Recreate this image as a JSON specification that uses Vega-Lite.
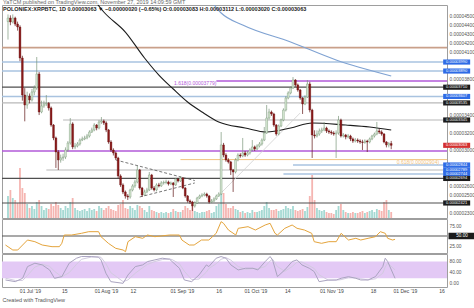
{
"$schema": "https://vega.github.io/schema/vega-lite/v6.json",
"padding": 0,
"background": "white",
"spacing": 1,
"bounds": "flush",
"config": {"font": "Liberation Sans", "view": {"stroke": "#9e9e9e", "strokeWidth": 1}},
"title": {"text": "YaTCM published on TradingView.com, November 27, 2019 14:09:59 GMT", "subtitle": "POLONIEX:XRPBTC, 1D  0.00003063 ▼ −0.00000020 (−0.65%)  O:0.00003083  H:0.00003112  L:0.00003020  C:0.00003063", "anchor": "start", "frame": "group", "fontSize": 5.5, "fontWeight": "normal", "color": "#666666", "subtitleFontSize": 5.5, "subtitleColor": "#222222", "subtitleFontWeight": "bold", "subtitlePadding": 1.5, "offset": -8, "dx": 1},
"datasets": {
"candles": [
{"t":"2019-06-20","o":4440e-8,"h":4520e-8,"l":4240e-8,"c":4480e-8,"v":22},
{"t":"2019-06-21","o":4480e-8,"h":4510e-8,"l":4400e-8,"c":4436e-8,"v":28},
{"t":"2019-06-22","o":4436e-8,"h":4520e-8,"l":4420e-8,"c":4480e-8,"v":20},
{"t":"2019-06-23","o":4480e-8,"h":4495e-8,"l":4390e-8,"c":4413e-8,"v":18},
{"t":"2019-06-24","o":4413e-8,"h":4440e-8,"l":4340e-8,"c":4380e-8,"v":15},
{"t":"2019-06-25","o":4380e-8,"h":4400e-8,"l":4000e-8,"c":4035e-8,"v":50},
{"t":"2019-06-26","o":4035e-8,"h":4060e-8,"l":3560e-8,"c":3623e-8,"v":30},
{"t":"2019-06-27","o":3623e-8,"h":3700e-8,"l":3330e-8,"c":3512e-8,"v":25},
{"t":"2019-06-28","o":3512e-8,"h":3660e-8,"l":3470e-8,"c":3612e-8,"v":14},
{"t":"2019-06-29","o":3612e-8,"h":3640e-8,"l":3530e-8,"c":3568e-8,"v":10},
{"t":"2019-06-30","o":3568e-8,"h":3690e-8,"l":3550e-8,"c":3657e-8,"v":12},
{"t":"2019-07-01","o":3657e-8,"h":3730e-8,"l":3620e-8,"c":3701e-8,"v":9},
{"t":"2019-07-02","o":3701e-8,"h":4046e-8,"l":3680e-8,"c":3857e-8,"v":16},
{"t":"2019-07-03","o":3857e-8,"h":3880e-8,"l":3400e-8,"c":3434e-8,"v":18},
{"t":"2019-07-04","o":3434e-8,"h":3560e-8,"l":3420e-8,"c":3501e-8,"v":12},
{"t":"2019-07-05","o":3501e-8,"h":3560e-8,"l":3480e-8,"c":3523e-8,"v":8},
{"t":"2019-07-06","o":3523e-8,"h":3623e-8,"l":3500e-8,"c":3530e-8,"v":10},
{"t":"2019-07-07","o":3530e-8,"h":3545e-8,"l":3450e-8,"c":3479e-8,"v":9},
{"t":"2019-07-08","o":3479e-8,"h":3495e-8,"l":3270e-8,"c":3289e-8,"v":14},
{"t":"2019-07-09","o":3289e-8,"h":3300e-8,"l":3120e-8,"c":3145e-8,"v":12},
{"t":"2019-07-10","o":3145e-8,"h":3160e-8,"l":2811e-8,"c":2989e-8,"v":16},
{"t":"2019-07-11","o":2989e-8,"h":3010e-8,"l":2789e-8,"c":2900e-8,"v":13},
{"t":"2019-07-12","o":2900e-8,"h":2960e-8,"l":2870e-8,"c":2922e-8,"v":10},
{"t":"2019-07-13","o":2922e-8,"h":2970e-8,"l":2890e-8,"c":2933e-8,"v":8},
{"t":"2019-07-14","o":2933e-8,"h":3040e-8,"l":2910e-8,"c":3011e-8,"v":12},
{"t":"2019-07-15","o":3011e-8,"h":3110e-8,"l":2990e-8,"c":3089e-8,"v":10},
{"t":"2019-07-16","o":3089e-8,"h":3367e-8,"l":3070e-8,"c":3301e-8,"v":16},
{"t":"2019-07-17","o":3301e-8,"h":3320e-8,"l":3020e-8,"c":3045e-8,"v":20},
{"t":"2019-07-18","o":3045e-8,"h":3090e-8,"l":3020e-8,"c":3056e-8,"v":10},
{"t":"2019-07-19","o":3056e-8,"h":3100e-8,"l":3040e-8,"c":3078e-8,"v":8},
{"t":"2019-07-20","o":3078e-8,"h":3140e-8,"l":3060e-8,"c":3122e-8,"v":7},
{"t":"2019-07-21","o":3122e-8,"h":3160e-8,"l":3110e-8,"c":3134e-8,"v":8},
{"t":"2019-07-22","o":3134e-8,"h":3170e-8,"l":3120e-8,"c":3145e-8,"v":9},
{"t":"2019-07-23","o":3145e-8,"h":3190e-8,"l":3130e-8,"c":3167e-8,"v":7},
{"t":"2019-07-24","o":3167e-8,"h":3230e-8,"l":3150e-8,"c":3211e-8,"v":10},
{"t":"2019-07-25","o":3211e-8,"h":3260e-8,"l":3200e-8,"c":3234e-8,"v":8},
{"t":"2019-07-26","o":3234e-8,"h":3310e-8,"l":3220e-8,"c":3289e-8,"v":9},
{"t":"2019-07-27","o":3289e-8,"h":3300e-8,"l":3230e-8,"c":3256e-8,"v":7},
{"t":"2019-07-28","o":3256e-8,"h":3345e-8,"l":3240e-8,"c":3323e-8,"v":12},
{"t":"2019-07-29","o":3323e-8,"h":3378e-8,"l":3300e-8,"c":3334e-8,"v":10},
{"t":"2019-07-30","o":3334e-8,"h":3350e-8,"l":3290e-8,"c":3312e-8,"v":8},
{"t":"2019-07-31","o":3312e-8,"h":3330e-8,"l":3210e-8,"c":3234e-8,"v":10},
{"t":"2019-08-01","o":3234e-8,"h":3245e-8,"l":3080e-8,"c":3100e-8,"v":12},
{"t":"2019-08-02","o":3100e-8,"h":3120e-8,"l":2990e-8,"c":3011e-8,"v":9},
{"t":"2019-08-03","o":3011e-8,"h":3030e-8,"l":2950e-8,"c":2978e-8,"v":8},
{"t":"2019-08-04","o":2978e-8,"h":2995e-8,"l":2900e-8,"c":2922e-8,"v":7},
{"t":"2019-08-05","o":2922e-8,"h":2935e-8,"l":2700e-8,"c":2722e-8,"v":13},
{"t":"2019-08-06","o":2722e-8,"h":2740e-8,"l":2600e-8,"c":2622e-8,"v":14},
{"t":"2019-08-07","o":2622e-8,"h":2640e-8,"l":2520e-8,"c":2544e-8,"v":18},
{"t":"2019-08-08","o":2544e-8,"h":2560e-8,"l":2470e-8,"c":2499e-8,"v":10},
{"t":"2019-08-09","o":2499e-8,"h":2520e-8,"l":2455e-8,"c":2488e-8,"v":9},
{"t":"2019-08-10","o":2488e-8,"h":2580e-8,"l":2470e-8,"c":2566e-8,"v":12},
{"t":"2019-08-11","o":2566e-8,"h":2630e-8,"l":2550e-8,"c":2611e-8,"v":10},
{"t":"2019-08-12","o":2611e-8,"h":2680e-8,"l":2590e-8,"c":2655e-8,"v":8},
{"t":"2019-08-13","o":2655e-8,"h":2833e-8,"l":2640e-8,"c":2789e-8,"v":13},
{"t":"2019-08-14","o":2789e-8,"h":2800e-8,"l":2570e-8,"c":2588e-8,"v":12},
{"t":"2019-08-15","o":2588e-8,"h":2600e-8,"l":2488e-8,"c":2510e-8,"v":10},
{"t":"2019-08-16","o":2510e-8,"h":2570e-8,"l":2500e-8,"c":2544e-8,"v":8},
{"t":"2019-08-17","o":2544e-8,"h":2590e-8,"l":2530e-8,"c":2566e-8,"v":6},
{"t":"2019-08-18","o":2566e-8,"h":2766e-8,"l":2555e-8,"c":2733e-8,"v":12},
{"t":"2019-08-19","o":2733e-8,"h":2745e-8,"l":2570e-8,"c":2588e-8,"v":8},
{"t":"2019-08-20","o":2588e-8,"h":2610e-8,"l":2550e-8,"c":2566e-8,"v":7},
{"t":"2019-08-21","o":2566e-8,"h":2640e-8,"l":2550e-8,"c":2622e-8,"v":6},
{"t":"2019-08-22","o":2622e-8,"h":2645e-8,"l":2595e-8,"c":2611e-8,"v":5},
{"t":"2019-08-23","o":2611e-8,"h":2665e-8,"l":2600e-8,"c":2644e-8,"v":6},
{"t":"2019-08-24","o":2644e-8,"h":2670e-8,"l":2625e-8,"c":2650e-8,"v":5},
{"t":"2019-08-25","o":2650e-8,"h":2680e-8,"l":2630e-8,"c":2655e-8,"v":6},
{"t":"2019-08-26","o":2655e-8,"h":2670e-8,"l":2615e-8,"c":2633e-8,"v":5},
{"t":"2019-08-27","o":2633e-8,"h":2660e-8,"l":2620e-8,"c":2644e-8,"v":6},
{"t":"2019-08-28","o":2644e-8,"h":2655e-8,"l":2488e-8,"c":2622e-8,"v":9},
{"t":"2019-08-29","o":2622e-8,"h":2700e-8,"l":2610e-8,"c":2688e-8,"v":7},
{"t":"2019-08-30","o":2688e-8,"h":2700e-8,"l":2650e-8,"c":2666e-8,"v":6},
{"t":"2019-08-31","o":2666e-8,"h":2720e-8,"l":2655e-8,"c":2700e-8,"v":6},
{"t":"2019-09-01","o":2700e-8,"h":2710e-8,"l":2575e-8,"c":2588e-8,"v":8},
{"t":"2019-09-02","o":2588e-8,"h":2600e-8,"l":2480e-8,"c":2499e-8,"v":12},
{"t":"2019-09-03","o":2499e-8,"h":2510e-8,"l":2425e-8,"c":2444e-8,"v":10},
{"t":"2019-09-04","o":2444e-8,"h":2460e-8,"l":2410e-8,"c":2432e-8,"v":8},
{"t":"2019-09-05","o":2432e-8,"h":2445e-8,"l":2332e-8,"c":2388e-8,"v":12},
{"t":"2019-09-06","o":2388e-8,"h":2440e-8,"l":2370e-8,"c":2421e-8,"v":7},
{"t":"2019-09-07","o":2421e-8,"h":2490e-8,"l":2410e-8,"c":2477e-8,"v":6},
{"t":"2019-09-08","o":2477e-8,"h":2515e-8,"l":2465e-8,"c":2499e-8,"v":5},
{"t":"2019-09-09","o":2499e-8,"h":2530e-8,"l":2485e-8,"c":2510e-8,"v":6},
{"t":"2019-09-10","o":2510e-8,"h":2540e-8,"l":2495e-8,"c":2521e-8,"v":6},
{"t":"2019-09-11","o":2521e-8,"h":2535e-8,"l":2480e-8,"c":2499e-8,"v":7},
{"t":"2019-09-12","o":2499e-8,"h":2510e-8,"l":2415e-8,"c":2432e-8,"v":8},
{"t":"2019-09-13","o":2432e-8,"h":2465e-8,"l":2420e-8,"c":2444e-8,"v":5},
{"t":"2019-09-14","o":2444e-8,"h":2485e-8,"l":2430e-8,"c":2466e-8,"v":6},
{"t":"2019-09-15","o":2466e-8,"h":2515e-8,"l":2455e-8,"c":2499e-8,"v":12},
{"t":"2019-09-16","o":2499e-8,"h":2540e-8,"l":2488e-8,"c":2521e-8,"v":14},
{"t":"2019-09-17","o":2521e-8,"h":3211e-8,"l":2510e-8,"c":3067e-8,"v":26},
{"t":"2019-09-18","o":3067e-8,"h":3090e-8,"l":2930e-8,"c":2955e-8,"v":25},
{"t":"2019-09-19","o":2955e-8,"h":2975e-8,"l":2880e-8,"c":2900e-8,"v":14},
{"t":"2019-09-20","o":2900e-8,"h":2920e-8,"l":2860e-8,"c":2878e-8,"v":10},
{"t":"2019-09-21","o":2878e-8,"h":2890e-8,"l":2733e-8,"c":2789e-8,"v":10},
{"t":"2019-09-22","o":2789e-8,"h":2800e-8,"l":2544e-8,"c":2766e-8,"v":12},
{"t":"2019-09-23","o":2766e-8,"h":2920e-8,"l":2750e-8,"c":2900e-8,"v":9},
{"t":"2019-09-24","o":2900e-8,"h":2975e-8,"l":2885e-8,"c":2955e-8,"v":8},
{"t":"2019-09-25","o":2955e-8,"h":2975e-8,"l":2925e-8,"c":2944e-8,"v":6},
{"t":"2019-09-26","o":2944e-8,"h":3145e-8,"l":2930e-8,"c":2978e-8,"v":7},
{"t":"2019-09-27","o":2978e-8,"h":3000e-8,"l":2935e-8,"c":2955e-8,"v":5},
{"t":"2019-09-28","o":2955e-8,"h":3000e-8,"l":2940e-8,"c":2978e-8,"v":6},
{"t":"2019-09-29","o":2978e-8,"h":3030e-8,"l":2960e-8,"c":3011e-8,"v":5},
{"t":"2019-09-30","o":3011e-8,"h":3122e-8,"l":2995e-8,"c":3045e-8,"v":8},
{"t":"2019-10-01","o":3045e-8,"h":3060e-8,"l":3000e-8,"c":3022e-8,"v":6},
{"t":"2019-10-02","o":3022e-8,"h":3075e-8,"l":3010e-8,"c":3056e-8,"v":6},
{"t":"2019-10-03","o":3056e-8,"h":3100e-8,"l":3040e-8,"c":3078e-8,"v":7},
{"t":"2019-10-04","o":3078e-8,"h":3140e-8,"l":3060e-8,"c":3122e-8,"v":8},
{"t":"2019-10-05","o":3122e-8,"h":3267e-8,"l":3110e-8,"c":3200e-8,"v":12},
{"t":"2019-10-06","o":3200e-8,"h":3512e-8,"l":3190e-8,"c":3367e-8,"v":16},
{"t":"2019-10-07","o":3367e-8,"h":3470e-8,"l":3350e-8,"c":3434e-8,"v":10},
{"t":"2019-10-08","o":3434e-8,"h":3450e-8,"l":3390e-8,"c":3412e-8,"v":8},
{"t":"2019-10-09","o":3412e-8,"h":3425e-8,"l":3270e-8,"c":3289e-8,"v":8},
{"t":"2019-10-10","o":3289e-8,"h":3300e-8,"l":3170e-8,"c":3189e-8,"v":9},
{"t":"2019-10-11","o":3189e-8,"h":3295e-8,"l":3175e-8,"c":3278e-8,"v":7},
{"t":"2019-10-12","o":3278e-8,"h":3360e-8,"l":3265e-8,"c":3345e-8,"v":8},
{"t":"2019-10-13","o":3345e-8,"h":3475e-8,"l":3330e-8,"c":3456e-8,"v":9},
{"t":"2019-10-14","o":3456e-8,"h":3610e-8,"l":3440e-8,"c":3590e-8,"v":12},
{"t":"2019-10-15","o":3590e-8,"h":3665e-8,"l":3575e-8,"c":3646e-8,"v":10},
{"t":"2019-10-16","o":3646e-8,"h":3720e-8,"l":3630e-8,"c":3701e-8,"v":9},
{"t":"2019-10-17","o":3701e-8,"h":3823e-8,"l":3690e-8,"c":3790e-8,"v":12},
{"t":"2019-10-18","o":3790e-8,"h":3800e-8,"l":3715e-8,"c":3735e-8,"v":8},
{"t":"2019-10-19","o":3735e-8,"h":3750e-8,"l":3660e-8,"c":3679e-8,"v":7},
{"t":"2019-10-20","o":3679e-8,"h":3690e-8,"l":3570e-8,"c":3590e-8,"v":8},
{"t":"2019-10-21","o":3590e-8,"h":3600e-8,"l":3412e-8,"c":3523e-8,"v":9},
{"t":"2019-10-22","o":3523e-8,"h":3620e-8,"l":3510e-8,"c":3601e-8,"v":7},
{"t":"2019-10-23","o":3601e-8,"h":3790e-8,"l":3590e-8,"c":3746e-8,"v":11},
{"t":"2019-10-24","o":3746e-8,"h":3770e-8,"l":3430e-8,"c":3456e-8,"v":22},
{"t":"2019-10-25","o":3456e-8,"h":3470e-8,"l":2922e-8,"c":3178e-8,"v":43},
{"t":"2019-10-26","o":3178e-8,"h":3230e-8,"l":3140e-8,"c":3167e-8,"v":18},
{"t":"2019-10-27","o":3167e-8,"h":3230e-8,"l":3150e-8,"c":3189e-8,"v":10},
{"t":"2019-10-28","o":3189e-8,"h":3250e-8,"l":3170e-8,"c":3223e-8,"v":8},
{"t":"2019-10-29","o":3223e-8,"h":3260e-8,"l":3200e-8,"c":3234e-8,"v":7},
{"t":"2019-10-30","o":3234e-8,"h":3323e-8,"l":3220e-8,"c":3256e-8,"v":8},
{"t":"2019-10-31","o":3256e-8,"h":3270e-8,"l":3200e-8,"c":3223e-8,"v":6},
{"t":"2019-11-01","o":3223e-8,"h":3240e-8,"l":3190e-8,"c":3211e-8,"v":5},
{"t":"2019-11-02","o":3211e-8,"h":3230e-8,"l":3180e-8,"c":3200e-8,"v":5},
{"t":"2019-11-03","o":3200e-8,"h":3220e-8,"l":3170e-8,"c":3189e-8,"v":4},
{"t":"2019-11-04","o":3189e-8,"h":3230e-8,"l":2922e-8,"c":3200e-8,"v":8},
{"t":"2019-11-05","o":3200e-8,"h":3390e-8,"l":3180e-8,"c":3345e-8,"v":12},
{"t":"2019-11-06","o":3345e-8,"h":3360e-8,"l":3150e-8,"c":3167e-8,"v":14},
{"t":"2019-11-07","o":3167e-8,"h":3200e-8,"l":3150e-8,"c":3178e-8,"v":8},
{"t":"2019-11-08","o":3178e-8,"h":3190e-8,"l":3130e-8,"c":3156e-8,"v":6},
{"t":"2019-11-09","o":3156e-8,"h":3190e-8,"l":3140e-8,"c":3167e-8,"v":5},
{"t":"2019-11-10","o":3167e-8,"h":3180e-8,"l":3110e-8,"c":3134e-8,"v":5},
{"t":"2019-11-11","o":3134e-8,"h":3150e-8,"l":3090e-8,"c":3111e-8,"v":6},
{"t":"2019-11-12","o":3111e-8,"h":3145e-8,"l":3095e-8,"c":3122e-8,"v":5},
{"t":"2019-11-13","o":3122e-8,"h":3140e-8,"l":3090e-8,"c":3111e-8,"v":5},
{"t":"2019-11-14","o":3111e-8,"h":3130e-8,"l":3080e-8,"c":3100e-8,"v":6},
{"t":"2019-11-15","o":3100e-8,"h":3125e-8,"l":3011e-8,"c":3095e-8,"v":7},
{"t":"2019-11-16","o":3095e-8,"h":3130e-8,"l":3080e-8,"c":3111e-8,"v":5},
{"t":"2019-11-17","o":3111e-8,"h":3125e-8,"l":2989e-8,"c":3100e-8,"v":6},
{"t":"2019-11-18","o":3100e-8,"h":3150e-8,"l":3085e-8,"c":3134e-8,"v":7},
{"t":"2019-11-19","o":3134e-8,"h":3180e-8,"l":3120e-8,"c":3167e-8,"v":8},
{"t":"2019-11-20","o":3167e-8,"h":3205e-8,"l":3150e-8,"c":3189e-8,"v":6},
{"t":"2019-11-21","o":3189e-8,"h":3323e-8,"l":3175e-8,"c":3223e-8,"v":9},
{"t":"2019-11-22","o":3223e-8,"h":3245e-8,"l":3190e-8,"c":3211e-8,"v":8},
{"t":"2019-11-23","o":3211e-8,"h":3230e-8,"l":3170e-8,"c":3189e-8,"v":7},
{"t":"2019-11-24","o":3189e-8,"h":3200e-8,"l":3085e-8,"c":3100e-8,"v":16},
{"t":"2019-11-25","o":3100e-8,"h":3110e-8,"l":3040e-8,"c":3067e-8,"v":18},
{"t":"2019-11-26","o":3067e-8,"h":3100e-8,"l":3040e-8,"c":3083e-8,"v":8},
{"t":"2019-11-27","o":3083e-8,"h":3112e-8,"l":3020e-8,"c":3063e-8,"v":6}
],
"levels": [
{"p":4150e-8,"kind":"brown","from":"2019-06-01","to":"2019-12-31"},
{"p":3990e-8,"kind":"steel","from":"2019-06-01","to":"2019-12-31"},
{"p":3890e-8,"kind":"steel","from":"2019-06-01","to":"2019-12-31"},
{"p":3779e-8,"kind":"fib","from":"2019-09-15","to":"2019-12-31"},
{"p":3710e-8,"kind":"dark","from":"2019-06-01","to":"2019-12-31"},
{"p":3607e-8,"kind":"steel","from":"2019-06-01","to":"2019-12-31"},
{"p":3535e-8,"kind":"grey","from":"2019-06-01","to":"2019-12-31"},
{"p":3345e-8,"kind":"grey","from":"2019-07-13","to":"2019-12-31"},
{"p":3000e-8,"kind":"fib","from":"2019-06-01","to":"2019-12-31"},
{"p":2904e-8,"kind":"gold","from":"2019-08-31","to":"2019-12-31"},
{"p":2844e-8,"kind":"steel","from":"2019-10-17","to":"2019-12-31"},
{"p":2789e-8,"kind":"grey","from":"2019-07-06","to":"2019-12-31"},
{"p":2744e-8,"kind":"steel","from":"2019-10-13","to":"2019-12-31"},
{"p":2694e-8,"kind":"dark","from":"2019-06-01","to":"2019-12-31"},
{"p":2421e-8,"kind":"dark","from":"2019-06-01","to":"2019-12-31"}
],
"tags": [
{"p":3990e-8,"kind":"blue"},{"p":3890e-8,"kind":"blue"},{"p":3710e-8,"kind":"black"},{"p":3607e-8,"kind":"blue"},
{"p":3535e-8,"kind":"black"},{"p":3345e-8,"kind":"black"},{"p":3063e-8,"kind":"red"},{"p":2844e-8,"kind":"blue"},
{"p":2789e-8,"kind":"blue"},{"p":2744e-8,"kind":"blue"},{"p":2694e-8,"kind":"black"},{"p":2421e-8,"kind":"black"}
],
"ma": [
{"kind":"ma100","t":"2019-07-26","p":4680e-8},{"kind":"ma100","t":"2019-07-30","p":4547e-8},{"kind":"ma100","t":"2019-08-08","p":4324e-8},
{"kind":"ma100","t":"2019-08-16","p":4035e-8},{"kind":"ma100","t":"2019-08-22","p":3845e-8},{"kind":"ma100","t":"2019-08-28","p":3690e-8},
{"kind":"ma100","t":"2019-09-03","p":3545e-8},{"kind":"ma100","t":"2019-09-09","p":3434e-8},{"kind":"ma100","t":"2019-09-16","p":3323e-8},
{"kind":"ma100","t":"2019-09-27","p":3256e-8},{"kind":"ma100","t":"2019-10-06","p":3211e-8},{"kind":"ma100","t":"2019-10-16","p":3256e-8},
{"kind":"ma100","t":"2019-10-25","p":3312e-8},{"kind":"ma100","t":"2019-11-08","p":3289e-8},{"kind":"ma100","t":"2019-11-18","p":3267e-8},
{"kind":"ma100","t":"2019-11-27","p":3234e-8},
{"kind":"ma200","t":"2019-09-13","p":4660e-8},{"kind":"ma200","t":"2019-09-17","p":4536e-8},{"kind":"ma200","t":"2019-09-26","p":4402e-8},
{"kind":"ma200","t":"2019-10-16","p":4213e-8},{"kind":"ma200","t":"2019-11-04","p":4013e-8},{"kind":"ma200","t":"2019-11-27","p":3835e-8}
],
"trend": [
{"id":"a","t":"2019-08-04","p":2900e-8},{"id":"a","t":"2019-09-06","p":2670e-8},
{"id":"b","t":"2019-08-14","p":2488e-8},{"id":"b","t":"2019-09-06","p":2644e-8}
],
"diag": [{"t":"2019-09-17","p":2533e-8},{"t":"2019-10-20","p":3423e-8}],
"notes": [
{"t":"2019-09-15","p":3757e-8,"label":"1.618(0.00003779)","kind":"fib"},
{"t":"2019-12-17","p":2878e-8,"label":"0.618(0.00002904)","kind":"gold"}
],
"rsi": [
{"t":"2019-06-21","r":27.5},{"t":"2019-06-24","r":15},{"t":"2019-06-26","r":15},{"t":"2019-06-30","r":40},{"t":"2019-07-03","r":35.8},
{"t":"2019-07-06","r":27.5},{"t":"2019-07-10","r":23.3},{"t":"2019-07-13","r":23.3},{"t":"2019-07-14","r":31.7},{"t":"2019-07-15","r":52.5},
{"t":"2019-07-18","r":52.5},{"t":"2019-07-22","r":56.7},{"t":"2019-07-25","r":60.8},{"t":"2019-07-29","r":60.8},{"t":"2019-07-30","r":48.3},
{"t":"2019-08-02","r":31.7},{"t":"2019-08-05","r":19.2},{"t":"2019-08-08","r":15},{"t":"2019-08-09","r":10.8},{"t":"2019-08-10","r":35.8},
{"t":"2019-08-13","r":48.3},{"t":"2019-08-16","r":44.2},{"t":"2019-08-18","r":52.5},{"t":"2019-08-21","r":48.3},{"t":"2019-08-27","r":52.5},
{"t":"2019-08-31","r":52.5},{"t":"2019-09-01","r":40},{"t":"2019-09-04","r":27.5},{"t":"2019-09-06","r":27.5},{"t":"2019-09-09","r":40},
{"t":"2019-09-12","r":40},{"t":"2019-09-15","r":56.7},{"t":"2019-09-17","r":85.8},{"t":"2019-09-18","r":81.7},{"t":"2019-09-20","r":65},
{"t":"2019-09-23","r":52.5},{"t":"2019-09-24","r":69.2},{"t":"2019-09-28","r":73.3},{"t":"2019-10-01","r":65},{"t":"2019-10-05","r":77.5},
{"t":"2019-10-07","r":81.7},{"t":"2019-10-09","r":56.7},{"t":"2019-10-10","r":52.5},{"t":"2019-10-13","r":69.2},{"t":"2019-10-16","r":77.5},
{"t":"2019-10-18","r":69.2},{"t":"2019-10-21","r":65},{"t":"2019-10-24","r":56.7},{"t":"2019-10-25","r":35.8},{"t":"2019-10-28","r":31.7},
{"t":"2019-10-31","r":35.8},{"t":"2019-11-03","r":35.8},{"t":"2019-11-05","r":56.7},{"t":"2019-11-08","r":40},{"t":"2019-11-11","r":44.2},
{"t":"2019-11-13","r":40},{"t":"2019-11-16","r":44.2},{"t":"2019-11-19","r":48.3},{"t":"2019-11-21","r":60.8},{"t":"2019-11-23","r":56.7},
{"t":"2019-11-24","r":44.2},{"t":"2019-11-26","r":40},{"t":"2019-11-27","r":41.7}
],
"stoch": [
{"t":"2019-06-21","k":13.7,"d":20},{"t":"2019-06-25","k":7.7,"d":12},{"t":"2019-06-28","k":19.7,"d":12},{"t":"2019-06-30","k":61.8,"d":30},
{"t":"2019-07-03","k":73.9,"d":60},{"t":"2019-07-06","k":67.8,"d":70},{"t":"2019-07-09","k":49.8,"d":63},{"t":"2019-07-11","k":19.7,"d":45},
{"t":"2019-07-14","k":25.7,"d":25},{"t":"2019-07-17","k":73.9,"d":40},{"t":"2019-07-20","k":91.9,"d":70},{"t":"2019-07-22","k":97.9,"d":88},
{"t":"2019-07-26","k":97.9,"d":96},{"t":"2019-07-29","k":95.5,"d":97},{"t":"2019-07-30","k":85.9,"d":95},{"t":"2019-08-01","k":37.8,"d":72},
{"t":"2019-08-03","k":7.7,"d":40},{"t":"2019-08-08","k":1.7,"d":8},{"t":"2019-08-10","k":31.7,"d":14},{"t":"2019-08-13","k":61.8,"d":38},
{"t":"2019-08-16","k":67.8,"d":58},{"t":"2019-08-18","k":79.9,"d":70},{"t":"2019-08-21","k":85.9,"d":80},{"t":"2019-08-24","k":91.9,"d":87},
{"t":"2019-08-27","k":88.3,"d":89},{"t":"2019-08-28","k":79.9,"d":87},{"t":"2019-08-31","k":55.8,"d":72},{"t":"2019-09-02","k":13.7,"d":45},
{"t":"2019-09-05","k":7.7,"d":15},{"t":"2019-09-08","k":31.7,"d":17},{"t":"2019-09-11","k":67.8,"d":42},{"t":"2019-09-12","k":61.8,"d":55},
{"t":"2019-09-15","k":91.9,"d":72},{"t":"2019-09-17","k":97.9,"d":88},{"t":"2019-09-19","k":91.9,"d":94},{"t":"2019-09-21","k":67.8,"d":85},
{"t":"2019-09-24","k":49.8,"d":62},{"t":"2019-09-27","k":55.8,"d":52},{"t":"2019-09-30","k":55.8,"d":55},{"t":"2019-10-02","k":49.8,"d":54},
{"t":"2019-10-05","k":79.9,"d":62},{"t":"2019-10-07","k":97.9,"d":82},{"t":"2019-10-08","k":85.9,"d":88},{"t":"2019-10-10","k":25.7,"d":62},
{"t":"2019-10-13","k":49.8,"d":45},{"t":"2019-10-16","k":79.9,"d":62},{"t":"2019-10-18","k":85.9,"d":78},{"t":"2019-10-20","k":67.8,"d":78},
{"t":"2019-10-23","k":55.8,"d":65},{"t":"2019-10-25","k":43.8,"d":55},{"t":"2019-10-27","k":7.7,"d":32},{"t":"2019-10-31","k":13.7,"d":12},
{"t":"2019-11-03","k":13.7,"d":13},{"t":"2019-11-05","k":19.7,"d":15},{"t":"2019-11-08","k":25.7,"d":22},{"t":"2019-11-11","k":19.7,"d":22},
{"t":"2019-11-13","k":13.7,"d":18},{"t":"2019-11-16","k":13.7,"d":14},{"t":"2019-11-19","k":25.7,"d":18},{"t":"2019-11-22","k":61.8,"d":38},
{"t":"2019-11-23","k":91.9,"d":60},{"t":"2019-11-24","k":79.9,"d":75},{"t":"2019-11-27","k":19.7,"d":50}
]
},
"vconcat": [
{
"width": 445, "height": 213,
"resolve": {"scale": {"y": "independent"}},
"layer": [
{"data": {"name": "candles"}, "mark": {"type": "bar", "size": 1.8, "opacity": 0.8},
 "encoding": {
  "x": {"field": "t", "type": "temporal", "scale": {"type": "utc", "domain": [{"year":2019,"month":6,"date":19,"hours":14,"utc":true},{"year":2019,"month":12,"date":18,"hours":5,"utc":true}]}, "axis": null},
  "y": {"field": "v", "type": "quantitative", "scale": {"domain": [0, 213]}, "axis": null},
  "color": {"condition": {"test": "datum.c >= datum.o", "value": "#8fd0c8"}, "value": "#f3a29e"}}},
{"layer": [
 {"data": {"name": "levels"}, "mark": {"type": "rule", "clip": true},
  "encoding": {
   "x": {"field": "from", "type": "temporal", "scale": {"type": "utc", "domain": [{"year":2019,"month":6,"date":19,"hours":14,"utc":true},{"year":2019,"month":12,"date":18,"hours":5,"utc":true}]}, "axis": null},
   "x2": {"field": "to"},
   "y": {"field": "p", "type": "quantitative", "scale": {"domain": [2254e-8, 4625e-8]}, "axis": {"orient": "right", "title": null, "format": ".8f", "values": [2300e-8,2500e-8,2600e-8,3000e-8,3200e-8,3400e-8,3800e-8,4100e-8,4200e-8,4300e-8,4400e-8,4500e-8], "ticks": false, "domain": false, "grid": false, "labelFontSize": 4.8, "labelColor": "#555555", "labelPadding": 2, "labelOverlap": false}},
   "color": {"field": "kind", "type": "nominal", "legend": null, "scale": {"domain": ["brown","steel","fib","dark","grey","gold","ma100","ma200","blue","black","red"], "range": ["#c9a08a","#a9c3e0","#b25ad8","#4f4f4f","#b8b8b8","#f0c27e","#1c1c1c","#7fa2d2","#2e6be6","#1b1b1b","#d32f2f"]}},
   "strokeWidth": {"field": "kind", "type": "nominal", "legend": null, "scale": {"domain": ["brown","steel","fib","dark","grey","gold"], "range": [1.6, 1, 1.5, 1.3, 0.8, 1.5]}}}},
 {"data": {"name": "trend"}, "mark": {"type": "line", "clip": true, "color": "#555555", "strokeWidth": 0.8, "strokeDash": [3, 2]},
  "encoding": {
   "x": {"field": "t", "type": "temporal", "scale": {"type": "utc", "domain": [{"year":2019,"month":6,"date":19,"hours":14,"utc":true},{"year":2019,"month":12,"date":18,"hours":5,"utc":true}]}, "axis": null},
   "y": {"field": "p", "type": "quantitative", "scale": {"domain": [2254e-8, 4625e-8]}, "axis": {"orient": "right", "title": null, "format": ".8f", "values": [2300e-8,2500e-8,2600e-8,3000e-8,3200e-8,3400e-8,3800e-8,4100e-8,4200e-8,4300e-8,4400e-8,4500e-8], "ticks": false, "domain": false, "grid": false, "labelFontSize": 4.8, "labelColor": "#555555", "labelPadding": 2, "labelOverlap": false}},
   "detail": {"field": "id"}}},
 {"data": {"name": "diag"}, "mark": {"type": "line", "clip": true, "color": "#cfcfcf", "strokeWidth": 0.8},
  "encoding": {
   "x": {"field": "t", "type": "temporal", "scale": {"type": "utc", "domain": [{"year":2019,"month":6,"date":19,"hours":14,"utc":true},{"year":2019,"month":12,"date":18,"hours":5,"utc":true}]}, "axis": null},
   "y": {"field": "p", "type": "quantitative", "scale": {"domain": [2254e-8, 4625e-8]}, "axis": {"orient": "right", "title": null, "format": ".8f", "values": [2300e-8,2500e-8,2600e-8,3000e-8,3200e-8,3400e-8,3800e-8,4100e-8,4200e-8,4300e-8,4400e-8,4500e-8], "ticks": false, "domain": false, "grid": false, "labelFontSize": 4.8, "labelColor": "#555555", "labelPadding": 2, "labelOverlap": false}}}},
 {"data": {"name": "ma"}, "mark": {"type": "line", "clip": true, "strokeWidth": 1.1, "interpolate": "monotone"},
  "encoding": {
   "x": {"field": "t", "type": "temporal", "scale": {"type": "utc", "domain": [{"year":2019,"month":6,"date":19,"hours":14,"utc":true},{"year":2019,"month":12,"date":18,"hours":5,"utc":true}]}, "axis": null},
   "y": {"field": "p", "type": "quantitative", "scale": {"domain": [2254e-8, 4625e-8]}, "axis": {"orient": "right", "title": null, "format": ".8f", "values": [2300e-8,2500e-8,2600e-8,3000e-8,3200e-8,3400e-8,3800e-8,4100e-8,4200e-8,4300e-8,4400e-8,4500e-8], "ticks": false, "domain": false, "grid": false, "labelFontSize": 4.8, "labelColor": "#555555", "labelPadding": 2, "labelOverlap": false}},
   "color": {"field": "kind", "type": "nominal", "legend": null, "scale": {"domain": ["brown","steel","fib","dark","grey","gold","ma100","ma200","blue","black","red"], "range": ["#c9a08a","#a9c3e0","#b25ad8","#4f4f4f","#b8b8b8","#f0c27e","#1c1c1c","#7fa2d2","#2e6be6","#1b1b1b","#d32f2f"]}}}},
 {"data": {"name": "candles"}, "mark": {"type": "rule", "clip": true, "strokeWidth": 0.7},
  "encoding": {
   "x": {"field": "t", "type": "temporal", "scale": {"type": "utc", "domain": [{"year":2019,"month":6,"date":19,"hours":14,"utc":true},{"year":2019,"month":12,"date":18,"hours":5,"utc":true}]}, "axis": null},
   "y": {"field": "l", "type": "quantitative", "scale": {"domain": [2254e-8, 4625e-8]}, "axis": {"orient": "right", "title": null, "format": ".8f", "values": [2300e-8,2500e-8,2600e-8,3000e-8,3200e-8,3400e-8,3800e-8,4100e-8,4200e-8,4300e-8,4400e-8,4500e-8], "ticks": false, "domain": false, "grid": false, "labelFontSize": 4.8, "labelColor": "#555555", "labelPadding": 2, "labelOverlap": false}},
   "y2": {"field": "h"},
   "color": {"condition": {"test": "datum.c >= datum.o", "value": "#7b967b"}, "value": "#5e1414"}}},
 {"data": {"name": "candles"}, "mark": {"type": "bar", "clip": true, "size": 1.8, "strokeWidth": 0.4},
  "encoding": {
   "x": {"field": "t", "type": "temporal", "scale": {"type": "utc", "domain": [{"year":2019,"month":6,"date":19,"hours":14,"utc":true},{"year":2019,"month":12,"date":18,"hours":5,"utc":true}]}, "axis": null},
   "y": {"field": "o", "type": "quantitative", "scale": {"domain": [2254e-8, 4625e-8]}, "axis": {"orient": "right", "title": null, "format": ".8f", "values": [2300e-8,2500e-8,2600e-8,3000e-8,3200e-8,3400e-8,3800e-8,4100e-8,4200e-8,4300e-8,4400e-8,4500e-8], "ticks": false, "domain": false, "grid": false, "labelFontSize": 4.8, "labelColor": "#555555", "labelPadding": 2, "labelOverlap": false}},
   "y2": {"field": "c"},
   "color": {"condition": {"test": "datum.c >= datum.o", "value": "#d9ead5"}, "value": "#8b1a1a"},
   "stroke": {"condition": {"test": "datum.c >= datum.o", "value": "#6f8f6f"}, "value": "#6a1010"}}},
 {"data": {"name": "notes"}, "mark": {"type": "text", "align": "right", "baseline": "middle", "fontSize": 5},
  "encoding": {
   "x": {"field": "t", "type": "temporal", "scale": {"type": "utc", "domain": [{"year":2019,"month":6,"date":19,"hours":14,"utc":true},{"year":2019,"month":12,"date":18,"hours":5,"utc":true}]}, "axis": null},
   "y": {"field": "p", "type": "quantitative", "scale": {"domain": [2254e-8, 4625e-8]}, "axis": {"orient": "right", "title": null, "format": ".8f", "values": [2300e-8,2500e-8,2600e-8,3000e-8,3200e-8,3400e-8,3800e-8,4100e-8,4200e-8,4300e-8,4400e-8,4500e-8], "ticks": false, "domain": false, "grid": false, "labelFontSize": 4.8, "labelColor": "#555555", "labelPadding": 2, "labelOverlap": false}},
   "text": {"field": "label"},
   "color": {"field": "kind", "type": "nominal", "legend": null, "scale": {"domain": ["brown","steel","fib","dark","grey","gold","ma100","ma200","blue","black","red"], "range": ["#c9a08a","#a9c3e0","#b25ad8","#4f4f4f","#b8b8b8","#e8b060","#1c1c1c","#7fa2d2","#2e6be6","#1b1b1b","#d32f2f"]}}}},
 {"data": {"name": "tags"}, "mark": {"type": "point", "filled": true, "opacity": 1, "strokeWidth": 0, "size": 729, "shape": "M-1,-0.19H1V0.19H-1Z"},
  "encoding": {
   "x": {"datum": {"year":2019,"month":12,"date":24,"hours":8,"utc":true}, "type": "temporal", "scale": {"type": "utc", "domain": [{"year":2019,"month":6,"date":19,"hours":14,"utc":true},{"year":2019,"month":12,"date":18,"hours":5,"utc":true}]}, "axis": null},
   "y": {"field": "p", "type": "quantitative", "scale": {"domain": [2254e-8, 4625e-8]}, "axis": {"orient": "right", "title": null, "format": ".8f", "values": [2300e-8,2500e-8,2600e-8,3000e-8,3200e-8,3400e-8,3800e-8,4100e-8,4200e-8,4300e-8,4400e-8,4500e-8], "ticks": false, "domain": false, "grid": false, "labelFontSize": 4.8, "labelColor": "#555555", "labelPadding": 2, "labelOverlap": false}},
   "color": {"field": "kind", "type": "nominal", "legend": null, "scale": {"domain": ["brown","steel","fib","dark","grey","gold","ma100","ma200","blue","black","red"], "range": ["#c9a08a","#a9c3e0","#b25ad8","#4f4f4f","#b8b8b8","#f0c27e","#1c1c1c","#7fa2d2","#2e6be6","#1b1b1b","#d32f2f"]}}}},
 {"data": {"name": "tags"}, "mark": {"type": "text", "color": "white", "fontSize": 4, "align": "center", "baseline": "middle"},
  "encoding": {
   "x": {"datum": {"year":2019,"month":12,"date":24,"hours":8,"utc":true}, "type": "temporal", "scale": {"type": "utc", "domain": [{"year":2019,"month":6,"date":19,"hours":14,"utc":true},{"year":2019,"month":12,"date":18,"hours":5,"utc":true}]}, "axis": null},
   "y": {"field": "p", "type": "quantitative", "scale": {"domain": [2254e-8, 4625e-8]}, "axis": {"orient": "right", "title": null, "format": ".8f", "values": [2300e-8,2500e-8,2600e-8,3000e-8,3200e-8,3400e-8,3800e-8,4100e-8,4200e-8,4300e-8,4400e-8,4500e-8], "ticks": false, "domain": false, "grid": false, "labelFontSize": 4.8, "labelColor": "#555555", "labelPadding": 2, "labelOverlap": false}},
   "text": {"field": "p", "type": "quantitative", "format": ".8f"}}}
]}
]
},
{
"width": 445, "height": 34,
"layer": [
 {"data": {"values": [{}]}, "mark": {"type": "rule", "color": "#555555", "strokeWidth": 1.2},
  "encoding": {"y": {"datum": 50, "type": "quantitative", "scale": {"domain": [7.5, 92.5]}, "axis": {"orient": "right", "title": null, "format": ".2f", "values": [25, 75], "ticks": false, "domain": false, "grid": false, "labelFontSize": 4.8, "labelColor": "#555555", "labelPadding": 2}}}},
 {"data": {"name": "rsi"}, "mark": {"type": "line", "clip": true, "color": "#e4a43c", "strokeWidth": 1},
  "encoding": {
   "x": {"field": "t", "type": "temporal", "scale": {"type": "utc", "domain": [{"year":2019,"month":6,"date":19,"hours":14,"utc":true},{"year":2019,"month":12,"date":18,"hours":5,"utc":true}]}, "axis": null},
   "y": {"field": "r", "type": "quantitative", "scale": {"domain": [7.5, 92.5]}, "axis": {"orient": "right", "title": null, "format": ".2f", "values": [25, 75], "ticks": false, "domain": false, "grid": false, "labelFontSize": 4.8, "labelColor": "#555555", "labelPadding": 2}}}},
 {"data": {"values": [{}]}, "mark": {"type": "point", "filled": true, "opacity": 1, "strokeWidth": 0, "size": 729, "shape": "M-1,-0.24H1V0.24H-1Z", "color": "#1b1b1b"},
  "encoding": {
   "x": {"datum": {"year":2019,"month":12,"date":24,"hours":8,"utc":true}, "type": "temporal", "scale": {"type": "utc", "domain": [{"year":2019,"month":6,"date":19,"hours":14,"utc":true},{"year":2019,"month":12,"date":18,"hours":5,"utc":true}]}, "axis": null},
   "y": {"datum": 50, "type": "quantitative", "scale": {"domain": [7.5, 92.5]}, "axis": {"orient": "right", "title": null, "format": ".2f", "values": [25, 75], "ticks": false, "domain": false, "grid": false, "labelFontSize": 4.8, "labelColor": "#555555", "labelPadding": 2}}}},
 {"data": {"values": [{}]}, "mark": {"type": "text", "color": "white", "fontSize": 4.6, "align": "center", "baseline": "middle"},
  "encoding": {
   "x": {"datum": {"year":2019,"month":12,"date":24,"hours":8,"utc":true}, "type": "temporal", "scale": {"type": "utc", "domain": [{"year":2019,"month":6,"date":19,"hours":14,"utc":true},{"year":2019,"month":12,"date":18,"hours":5,"utc":true}]}, "axis": null},
   "y": {"datum": 50, "type": "quantitative", "scale": {"domain": [7.5, 92.5]}, "axis": {"orient": "right", "title": null, "format": ".2f", "values": [25, 75], "ticks": false, "domain": false, "grid": false, "labelFontSize": 4.8, "labelColor": "#555555", "labelPadding": 2}},
   "text": {"value": "50.00"}}}
]
},
{
"width": 445, "height": 33,
"layer": [
 {"data": {"values": [{}]}, "mark": {"type": "rect", "color": "#e3c9f5"},
  "encoding": {
   "y": {"datum": 20, "type": "quantitative", "scale": {"domain": [-11.5, 107]}, "axis": {"orient": "right", "title": null, "format": ".2f", "values": [0, 40, 80], "ticks": false, "domain": false, "grid": false, "labelFontSize": 4.8, "labelColor": "#555555", "labelPadding": 2}},
   "y2": {"datum": 80}}},
 {"data": {"name": "stoch"}, "mark": {"type": "line", "clip": true, "color": "#d2cbe0", "strokeWidth": 1},
  "encoding": {
   "x": {"field": "t", "type": "temporal", "scale": {"type": "utc", "domain": [{"year":2019,"month":6,"date":19,"hours":14,"utc":true},{"year":2019,"month":12,"date":18,"hours":5,"utc":true}]},
    "axis": {"values": [{"year":2019,"month":7,"date":1,"utc":true},{"year":2019,"month":7,"date":15,"utc":true},{"year":2019,"month":8,"date":1,"utc":true},{"year":2019,"month":8,"date":12,"utc":true},{"year":2019,"month":9,"date":1,"utc":true},{"year":2019,"month":9,"date":16,"utc":true},{"year":2019,"month":10,"date":1,"utc":true},{"year":2019,"month":10,"date":14,"utc":true},{"year":2019,"month":11,"date":1,"utc":true},{"year":2019,"month":11,"date":18,"utc":true},{"year":2019,"month":12,"date":1,"utc":true},{"year":2019,"month":12,"date":16,"utc":true}],
     "labelExpr": "utcdate(datum.value) == 1 ? utcFormat(datum.value, \"%d %b '%y\") : utcFormat(datum.value, '%d')",
     "labelFontSize": 5, "labelColor": "#444444", "ticks": false, "domain": false, "grid": false, "labelPadding": 1, "labelFlush": false, "labelOverlap": false,
     "title": "Created with TradingView", "titleAnchor": "start", "titleAlign": "left", "titleFontSize": 5.5, "titleFontWeight": "normal", "titleColor": "#555555", "titlePadding": 4}},
   "y": {"field": "d", "type": "quantitative", "scale": {"domain": [-11.5, 107]}, "axis": {"orient": "right", "title": null, "format": ".2f", "values": [0, 40, 80], "ticks": false, "domain": false, "grid": false, "labelFontSize": 4.8, "labelColor": "#555555", "labelPadding": 2}}}},
 {"data": {"name": "stoch"}, "mark": {"type": "line", "clip": true, "color": "#aaa4c0", "strokeWidth": 1},
  "encoding": {
   "x": {"field": "t", "type": "temporal", "scale": {"type": "utc", "domain": [{"year":2019,"month":6,"date":19,"hours":14,"utc":true},{"year":2019,"month":12,"date":18,"hours":5,"utc":true}]},
    "axis": {"values": [{"year":2019,"month":7,"date":1,"utc":true},{"year":2019,"month":7,"date":15,"utc":true},{"year":2019,"month":8,"date":1,"utc":true},{"year":2019,"month":8,"date":12,"utc":true},{"year":2019,"month":9,"date":1,"utc":true},{"year":2019,"month":9,"date":16,"utc":true},{"year":2019,"month":10,"date":1,"utc":true},{"year":2019,"month":10,"date":14,"utc":true},{"year":2019,"month":11,"date":1,"utc":true},{"year":2019,"month":11,"date":18,"utc":true},{"year":2019,"month":12,"date":1,"utc":true},{"year":2019,"month":12,"date":16,"utc":true}],
     "labelExpr": "utcdate(datum.value) == 1 ? utcFormat(datum.value, \"%d %b '%y\") : utcFormat(datum.value, '%d')",
     "labelFontSize": 5, "labelColor": "#444444", "ticks": false, "domain": false, "grid": false, "labelPadding": 1, "labelFlush": false, "labelOverlap": false,
     "title": "Created with TradingView", "titleAnchor": "start", "titleAlign": "left", "titleFontSize": 5.5, "titleFontWeight": "normal", "titleColor": "#555555", "titlePadding": 4}},
   "y": {"field": "k", "type": "quantitative", "scale": {"domain": [-11.5, 107]}, "axis": {"orient": "right", "title": null, "format": ".2f", "values": [0, 40, 80], "ticks": false, "domain": false, "grid": false, "labelFontSize": 4.8, "labelColor": "#555555", "labelPadding": 2}}}}
]
}
]
}
